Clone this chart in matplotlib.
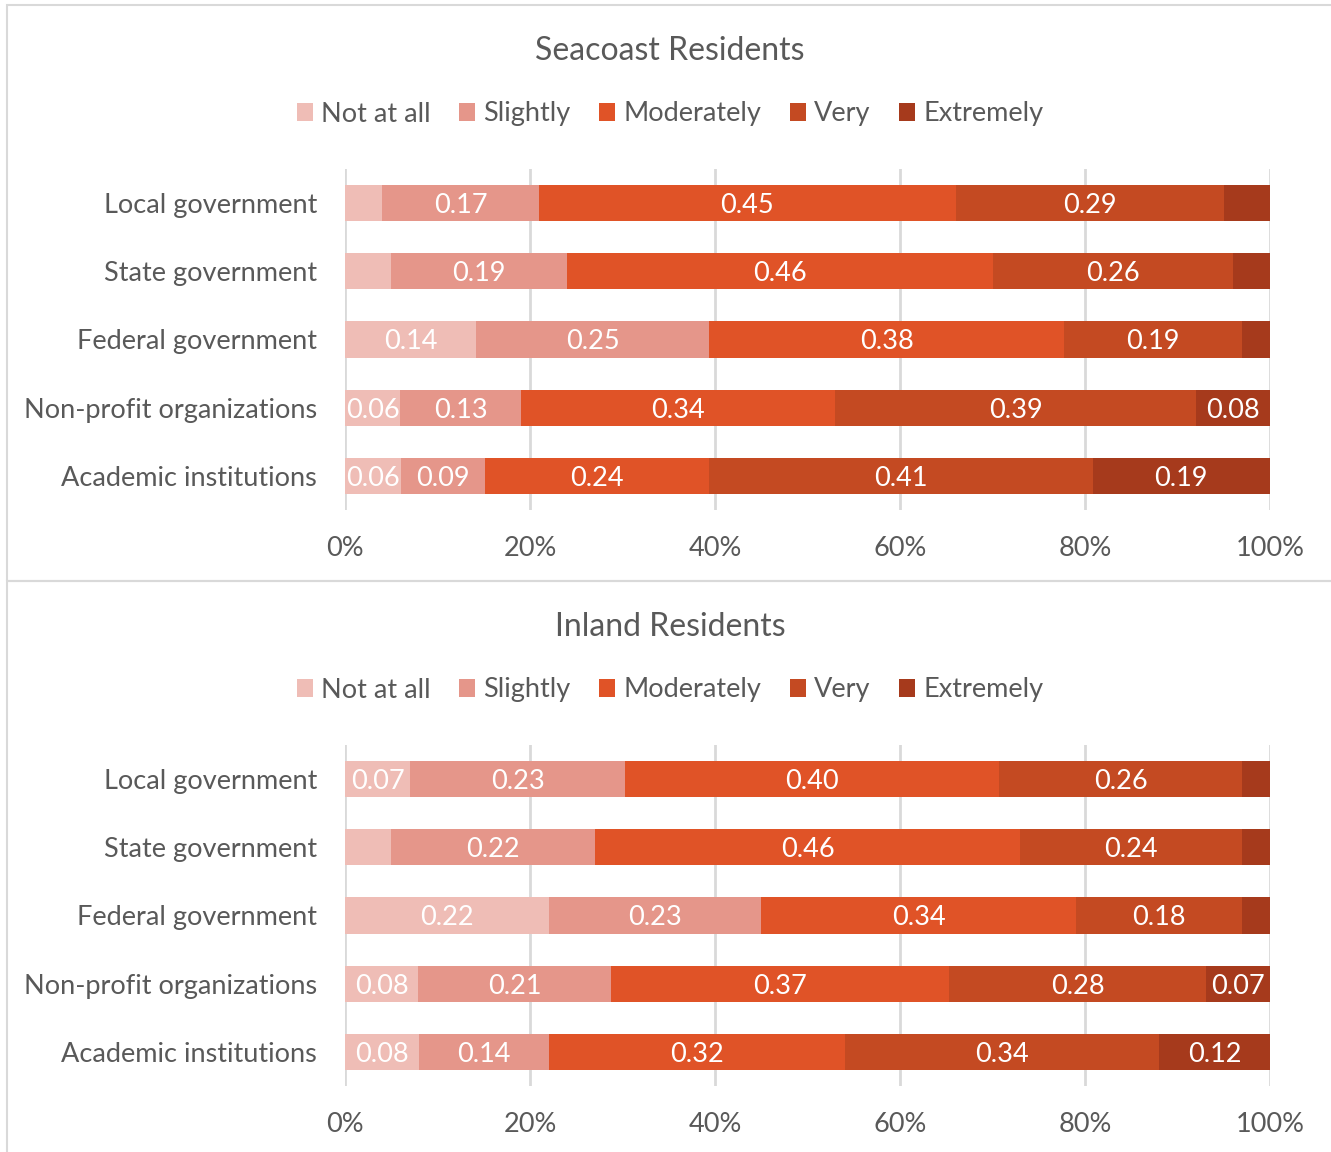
import matplotlib.pyplot as plt
import numpy as np
from matplotlib.patches import Rectangle

plt.rcParams['font.family'] = ['Lato', 'DejaVu Sans']

categories = ['Local government', 'State government', 'Federal government',
              'Non-profit organizations', 'Academic institutions']
levels = ['Not at all', 'Slightly', 'Moderately', 'Very', 'Extremely']
colors = ['#EFBDB6', '#E5968A', '#E05327', '#C44A22', '#A63A1C']

# rows follow categories, columns follow levels
seacoast = np.array([
    [0.04, 0.17, 0.45, 0.29, 0.05],
    [0.05, 0.19, 0.46, 0.26, 0.04],
    [0.14, 0.25, 0.38, 0.19, 0.03],
    [0.06, 0.13, 0.34, 0.39, 0.08],
    [0.06, 0.09, 0.24, 0.41, 0.19],
])
inland = np.array([
    [0.07, 0.23, 0.40, 0.26, 0.03],
    [0.05, 0.22, 0.46, 0.24, 0.03],
    [0.22, 0.23, 0.34, 0.18, 0.03],
    [0.08, 0.21, 0.37, 0.28, 0.07],
    [0.08, 0.14, 0.32, 0.34, 0.12],
])
# labels are hidden on the thinnest slices
min_label = 0.055

txt = '#595959'
grid = '#D9D9D9'
fs = 19.5

fig = plt.figure(figsize=(13.31, 11.52), dpi=100)

def panel(bottom, data, title, ytitle, yleg):
    ax = fig.add_axes([0.2592, bottom, 0.695, 0.296])
    shares = data / data.sum(axis=1, keepdims=True)
    y = np.arange(len(categories))
    left = np.zeros(len(categories))
    for j, lev in enumerate(levels):
        ax.barh(y, shares[:, j], left=left, height=0.53, color=colors[j],
                label=lev, zorder=2)
        for i in range(len(categories)):
            v = data[i, j]
            if v >= min_label:
                ax.text(left[i] + shares[i, j] / 2, y[i], f'{v:.2f}',
                        ha='center', va='center_baseline', color='white',
                        fontsize=fs)
        left += shares[:, j]
    ax.set_xlim(0, 1)
    ax.set_ylim(len(categories) - 0.5, -0.5)
    ax.set_yticks(y)
    ax.set_yticklabels(categories, fontsize=fs, color=txt, va='center_baseline')
    ax.set_xticks(np.linspace(0, 1, 6))
    ax.set_xticklabels([f'{int(t)}%' for t in np.linspace(0, 100, 6)],
                       fontsize=fs, color=txt)
    ax.tick_params(length=0, pad=20, axis='y')
    ax.tick_params(length=0, pad=19, axis='x')
    for s in ax.spines.values():
        s.set_visible(False)
    ax.grid(axis='x', color=grid, lw=2, zorder=0)
    ax.set_axisbelow(True)
    fig.text(0.5035, ytitle, title, ha='center', va='center', fontsize=23, color=txt)
    fig.legend(*ax.get_legend_handles_labels(), loc='center',
               bbox_to_anchor=(0.5035, yleg), ncol=5, frameon=False,
               fontsize=fs, labelcolor=txt, handlelength=0.6, handleheight=0.6,
               handletextpad=0.3, columnspacing=1.05)
    return ax

panel(0.5573, seacoast, 'Seacoast Residents', 1 - 51 / 1152, 1 - 114 / 1152)
panel(0.0573, inland, 'Inland Residents', 1 - 627 / 1152, 1 - 690 / 1152)

# chart borders
fig.add_artist(Rectangle((7 / 1331, 1 - 581 / 1152), 1.0, 576 / 1152,
                         transform=fig.transFigure, fill=False,
                         edgecolor=grid, lw=1.5))
fig.add_artist(Rectangle((7 / 1331, -0.05), 1.0, 1 - 581 / 1152 + 0.05,
                         transform=fig.transFigure, fill=False,
                         edgecolor=grid, lw=1.5))

fig.savefig('out.png', dpi=100)
